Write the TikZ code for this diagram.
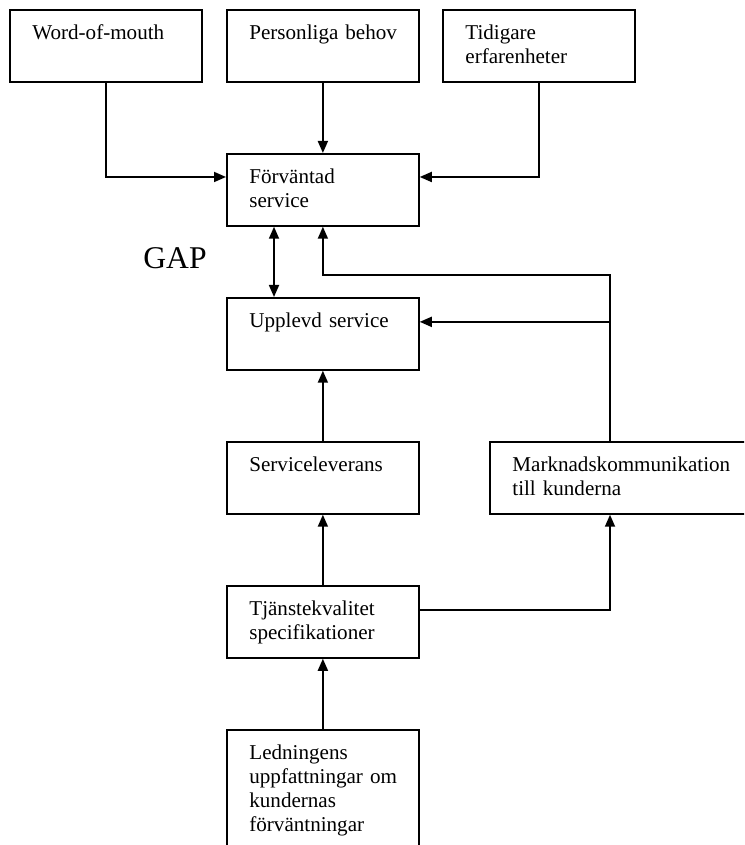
\documentclass[tikz,border=0pt]{standalone}
\usepackage{fontspec}
\setmainfont{Liberation Serif}
\usetikzlibrary{arrows.meta,positioning}

\begin{document}
\begin{tikzpicture}[box/.style={draw, line width=1pt, anchor=north west, align=left, text width=2.94cm, inner xsep=0.45cm, inner ysep=0pt, text height=0.6cm, text depth=0.84cm, font=\fontsize{12}{13.5}\selectfont},
	arr/.style={line width=1pt, -{Triangle[length=2.4mm,width=2mm]}},
	arrboth/.style={line width=1pt, {Triangle[length=2.4mm,width=2mm]}-{Triangle[length=2.4mm,width=2mm]}}]
		\useasboundingbox (0,0) rectangle (14.88,16.9);
		\clip (0,0) rectangle (14.88,16.9);

		\node[box] (wom) at (0.18,16.72) {Word-of-mouth};
		\node[box] (pers) at (4.52,16.72) {\mbox{Personliga behov}};
		\node[box] (tid) at (8.84,16.72) {Tidigare\\erfarenheter};
		\node[box] (forv) at (4.52,13.84) {Förväntad\\service};
		\node[box] (uppl) at (4.52,10.96) {Upplevd service};
		\node[box] (lev) at (4.52,8.08) {Serviceleverans};
		\node[box, text width=4.8cm] (mark) at (9.78,8.08) {Marknadskommunikation\\till kunderna};
		\node[box] (tjan) at (4.52,5.20) {Tjänstekvalitet\\specifikationer};
		\node[box, text depth=2.2cm] (led) at (4.52,2.32) {Ledningens\\\mbox{uppfattningar om}\\kundernas\\förväntningar};

		\node[font=\fontsize{18}{20}\selectfont] (gap) at (3.5,11.74) {GAP};

		\coordinate (forvin) at ([yshift=-0.48cm]forv.north west);
		\coordinate (forvin2) at ([yshift=-0.48cm]forv.north east);
		\coordinate (mtop) at ([xshift=2.42cm]mark.north west);
		\coordinate (mbot) at ([xshift=2.42cm]mark.south west);
		\coordinate (uppin) at ([yshift=0.24cm]uppl.east);
		\coordinate (tjout) at ([yshift=0.24cm]tjan.east);

		\draw[arr] (wom.south) |- (forvin);
		\draw[arr] (pers.south) -- (forv.north);
		\draw[arr] (tid.south) |- (forvin2);

		\draw[arrboth] ([xshift=0.96cm]forv.south west) -- ([xshift=0.96cm]uppl.north west);
		\draw[arr] (mtop) |- ([yshift=-0.96cm]forv.south) -- (forv.south);
		\draw[arr] (uppin -| mtop) -- (uppin);

		\draw[arr] (lev.north) -- (uppl.south);
		\draw[arr] (tjan.north) -- (lev.south);
		\draw[arr] (tjout) -| (mbot);
		\draw[arr] (led.north) -- (tjan.south);
	\end{tikzpicture}
\end{document}
